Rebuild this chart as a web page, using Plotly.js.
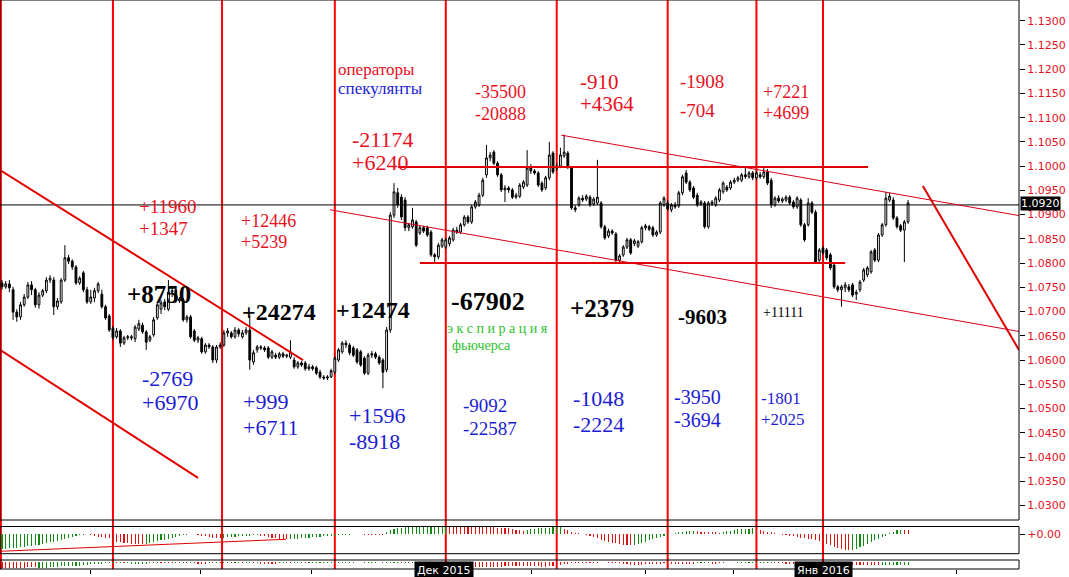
<!DOCTYPE html>
<html><head><meta charset="utf-8">
<script src="https://cdn.plot.ly/plotly-3.0.1.min.js"></script>
<style>html,body{margin:0;padding:0;background:#fff}</style>
</head><body><div id="chart" style="width:1069px;height:577px"></div>
<script>
// ---- data (EUR/USD 4h candles) ----
const open = [1.0759,1.0751,1.0757,1.0745,1.0699,1.0689,1.0714,1.0730,1.0755,1.0745,
1.0714,1.0734,1.0743,1.0765,1.0765,1.0710,1.0720,1.0765,1.0811,1.0804,
1.0792,1.0759,1.0780,1.0745,1.0720,1.0728,1.0743,1.0736,1.0710,1.0691,
1.0666,1.0648,1.0660,1.0635,1.0646,1.0648,1.0644,1.0664,1.0672,1.0658,
1.0641,1.0652,1.0687,1.0705,1.0720,1.0705,1.0740,1.0745,1.0722,1.0724,
1.0683,1.0689,1.0660,1.0641,1.0644,1.0617,1.0631,1.0627,1.0600,1.0627,
1.0631,1.0656,1.0656,1.0648,1.0662,1.0648,1.0656,1.0662,1.0596,1.0621,
1.0627,1.0625,1.0625,1.0606,1.0610,1.0606,1.0613,1.0608,1.0606,1.0600,
1.0586,1.0594,1.0594,1.0582,1.0586,1.0584,1.0575,1.0565,1.0563,1.0565,
1.0575,1.0600,1.0617,1.0635,1.0631,1.0625,1.0621,1.0617,1.0604,1.0573,
1.0610,1.0613,1.0606,1.0600,1.0580,1.0662,1.0899,1.0945,1.0936,1.0930,
1.0873,1.0875,1.0885,1.0862,1.0873,1.0873,1.0864,1.0817,1.0813,1.0835,
1.0833,1.0840,1.0848,1.0868,1.0864,1.0879,1.0895,1.0885,1.0916,1.0920,
1.0940,1.0982,1.1017,1.1029,1.1006,1.0982,1.0951,1.0955,1.0951,1.0936,
1.0938,1.0957,1.0961,1.0996,1.0990,1.0986,1.0965,1.0955,1.0976,1.1027,
1.0996,1.1000,1.1021,1.1027,1.0996,1.0914,1.0920,1.0934,1.0932,1.0936,
1.0922,1.0924,1.0924,1.0875,1.0856,1.0866,1.0860,1.0806,1.0817,1.0833,
1.0848,1.0840,1.0835,1.0844,1.0873,1.0875,1.0873,1.0858,1.0864,1.0920,
1.0924,1.0910,1.0920,1.0918,1.0945,1.0986,1.0967,1.0955,1.0940,1.0922,
1.0924,1.0875,1.0922,1.0920,1.0930,1.0947,1.0957,1.0955,1.0967,1.0971,
1.0971,1.0982,1.0978,1.0986,1.0976,1.0982,1.0978,1.0988,1.0971,1.0920,
1.0934,1.0928,1.0930,1.0936,1.0926,1.0916,1.0930,1.0879,1.0879,1.0924,
1.0905,1.0806,1.0831,1.0827,1.0817,1.0796,1.0751,1.0745,1.0749,1.0751,
1.0755,1.0736,1.0745,1.0765,1.0776,1.0782,1.0827,1.0806,1.0858,1.0879,
1.0930,1.0930,1.0893,1.0877,1.0868,1.0885];
const high = [1.0765,1.0763,1.0765,1.0751,1.0705,1.0720,1.0736,1.0761,1.0763,1.0749,
1.0740,1.0747,1.0771,1.0775,1.0771,1.0728,1.0769,1.0837,1.0817,1.0808,
1.0796,1.0773,1.0784,1.0751,1.0745,1.0749,1.0761,1.0745,1.0714,1.0695,
1.0670,1.0666,1.0664,1.0650,1.0652,1.0652,1.0672,1.0683,1.0677,1.0662,
1.0652,1.0689,1.0720,1.0724,1.0726,1.0765,1.0749,1.0751,1.0730,1.0728,
1.0693,1.0693,1.0664,1.0650,1.0648,1.0635,1.0635,1.0631,1.0631,1.0637,
1.0662,1.0666,1.0660,1.0668,1.0666,1.0662,1.0668,1.0693,1.0621,1.0631,
1.0631,1.0629,1.0629,1.0621,1.0615,1.0617,1.0617,1.0613,1.0641,1.0606,
1.0598,1.0598,1.0598,1.0592,1.0590,1.0588,1.0580,1.0569,1.0569,1.0582,
1.0608,1.0625,1.0639,1.0641,1.0635,1.0629,1.0625,1.0621,1.0608,1.0615,
1.0619,1.0617,1.0610,1.0604,1.0668,1.0905,1.0965,1.0955,1.0942,1.0936,
1.0883,1.0914,1.0889,1.0877,1.0877,1.0877,1.0868,1.0821,1.0842,1.0852,
1.0852,1.0856,1.0873,1.0875,1.0883,1.0899,1.0899,1.0920,1.0930,1.0945,
1.0976,1.1044,1.1029,1.1033,1.1010,1.0986,1.0961,1.0959,1.0955,1.0945,
1.0965,1.0971,1.1033,1.1004,1.0994,1.0990,1.0969,1.0980,1.1050,1.1031,
1.1006,1.1038,1.1065,1.1031,1.1000,1.0920,1.0938,1.0940,1.0942,1.0940,
1.0936,1.1013,1.0928,1.0879,1.0871,1.0870,1.0864,1.0819,1.0837,1.0852,
1.0852,1.0850,1.0848,1.0877,1.0881,1.0879,1.0877,1.0868,1.0928,1.0938,
1.0930,1.0924,1.0926,1.0949,1.0982,1.0992,1.0971,1.0959,1.0945,1.0930,
1.0928,1.0928,1.0930,1.0938,1.0955,1.0969,1.0961,1.0971,1.0976,1.0980,
1.0986,1.0996,1.0990,1.0990,1.0990,1.0988,1.0996,1.0994,1.0976,1.0938,
1.0940,1.0936,1.0940,1.0940,1.0930,1.0938,1.0934,1.0883,1.0934,1.0928,
1.0910,1.0831,1.0835,1.0831,1.0821,1.0800,1.0755,1.0755,1.0761,1.0757,
1.0759,1.0745,1.0765,1.0790,1.0794,1.0827,1.0831,1.0862,1.0883,1.0947,
1.0945,1.0936,1.0897,1.0881,1.0889,1.0930];
const low = [1.0745,1.0747,1.0740,1.0683,1.0679,1.0683,1.0710,1.0726,1.0734,1.0708,
1.0706,1.0730,1.0738,1.0759,1.0693,1.0704,1.0716,1.0761,1.0798,1.0786,
1.0755,1.0755,1.0740,1.0716,1.0716,1.0720,1.0738,1.0706,1.0683,1.0658,
1.0641,1.0644,1.0627,1.0631,1.0641,1.0641,1.0637,1.0660,1.0654,1.0621,
1.0637,1.0648,1.0683,1.0695,1.0703,1.0701,1.0730,1.0718,1.0718,1.0679,
1.0677,1.0644,1.0637,1.0635,1.0613,1.0613,1.0623,1.0594,1.0594,1.0623,
1.0627,1.0648,1.0644,1.0644,1.0648,1.0644,1.0652,1.0580,1.0590,1.0615,
1.0621,1.0617,1.0602,1.0602,1.0602,1.0602,1.0604,1.0604,1.0602,1.0582,
1.0582,1.0586,1.0578,1.0578,1.0578,1.0569,1.0561,1.0559,1.0559,1.0563,
1.0571,1.0596,1.0613,1.0625,1.0610,1.0606,1.0592,1.0586,1.0569,1.0569,
1.0604,1.0602,1.0590,1.0542,1.0575,1.0656,1.0893,1.0914,1.0889,1.0866,
1.0866,1.0871,1.0833,1.0858,1.0862,1.0854,1.0813,1.0802,1.0808,1.0831,
1.0829,1.0835,1.0844,1.0860,1.0860,1.0875,1.0881,1.0881,1.0912,1.0916,
1.0936,1.0976,1.1010,1.1002,1.0978,1.0947,1.0926,1.0945,1.0932,1.0932,
1.0934,1.0953,1.0957,1.0984,1.0982,1.0957,1.0947,1.0951,1.0971,1.0984,
1.0990,1.0996,1.1017,1.0994,1.0910,1.0905,1.0916,1.0926,1.0928,1.0916,
1.0918,1.0920,1.0871,1.0848,1.0852,1.0858,1.0802,1.0802,1.0813,1.0829,
1.0817,1.0835,1.0831,1.0840,1.0868,1.0866,1.0854,1.0854,1.0860,1.0916,
1.0908,1.0905,1.0912,1.0914,1.0940,1.0963,1.0947,1.0932,1.0916,1.0918,
1.0871,1.0871,1.0918,1.0916,1.0926,1.0943,1.0947,1.0951,1.0963,1.0967,
1.0967,1.0974,1.0974,1.0971,1.0971,1.0974,1.0974,1.0961,1.0914,1.0916,
1.0924,1.0924,1.0926,1.0920,1.0912,1.0912,1.0875,1.0844,1.0875,1.0901,
1.0798,1.0802,1.0817,1.0806,1.0786,1.0747,1.0740,1.0710,1.0740,1.0740,
1.0730,1.0724,1.0740,1.0761,1.0771,1.0778,1.0802,1.0802,1.0854,1.0875,
1.0926,1.0889,1.0871,1.0864,1.0802,1.0881];
const close = [1.0751,1.0757,1.0749,1.0699,1.0689,1.0714,1.0730,1.0755,1.0745,1.0714,
1.0734,1.0743,1.0765,1.0769,1.0710,1.0722,1.0765,1.0811,1.0804,1.0792,
1.0759,1.0769,1.0745,1.0720,1.0730,1.0743,1.0757,1.0710,1.0687,1.0662,
1.0646,1.0660,1.0635,1.0646,1.0648,1.0646,1.0668,1.0675,1.0658,1.0637,
1.0648,1.0683,1.0714,1.0718,1.0710,1.0740,1.0743,1.0722,1.0726,1.0683,
1.0689,1.0648,1.0641,1.0646,1.0617,1.0631,1.0627,1.0600,1.0627,1.0631,
1.0656,1.0660,1.0648,1.0662,1.0654,1.0656,1.0662,1.0600,1.0615,1.0627,
1.0625,1.0621,1.0606,1.0617,1.0606,1.0613,1.0608,1.0610,1.0617,1.0586,
1.0594,1.0590,1.0582,1.0586,1.0582,1.0573,1.0565,1.0563,1.0565,1.0578,
1.0604,1.0621,1.0635,1.0631,1.0615,1.0610,1.0596,1.0590,1.0573,1.0610,
1.0613,1.0606,1.0594,1.0575,1.0662,1.0899,1.0947,1.0920,1.0895,1.0873,
1.0879,1.0889,1.0837,1.0873,1.0866,1.0858,1.0817,1.0813,1.0837,1.0848,
1.0848,1.0852,1.0868,1.0864,1.0879,1.0895,1.0885,1.0916,1.0926,1.0940,
1.0971,1.1017,1.1023,1.1006,1.0982,1.0951,1.0955,1.0951,1.0936,1.0940,
1.0961,1.0967,1.0996,1.0990,1.0986,1.0961,1.0951,1.0976,1.1023,1.0988,
1.1000,1.1023,1.1029,1.0998,1.0914,1.0910,1.0934,1.0930,1.0938,1.0920,
1.0932,1.0936,1.0875,1.0852,1.0866,1.0862,1.0806,1.0815,1.0833,1.0848,
1.0821,1.0846,1.0844,1.0873,1.0877,1.0870,1.0858,1.0864,1.0924,1.0934,
1.0912,1.0920,1.0916,1.0945,1.0978,1.0967,1.0951,1.0936,1.0920,1.0926,
1.0875,1.0924,1.0926,1.0934,1.0951,1.0965,1.0951,1.0967,1.0971,1.0976,
1.0982,1.0978,1.0986,1.0976,1.0986,1.0978,1.0988,1.0965,1.0920,1.0934,
1.0928,1.0932,1.0936,1.0924,1.0916,1.0934,1.0879,1.0848,1.0924,1.0905,
1.0802,1.0827,1.0821,1.0811,1.0790,1.0751,1.0745,1.0751,1.0755,1.0745,
1.0734,1.0740,1.0761,1.0786,1.0790,1.0823,1.0806,1.0858,1.0879,1.0934,
1.0938,1.0893,1.0875,1.0868,1.0885,1.0924];
// oscillator histogram (lower panel), same bars
const hist = [-15,-14.6,-14.2,-14,-13.6,-13.2,-12.8,-12.4,-12,-11.3,-10.6,-9.8,-9,-8.3,-7.6,-6.8,-6,-5,-4,-3,-2.2,
-1,-0.6,-0.4,
-1,-1.8,-2.5,-3,-3.5,-4,
-6.5,-7.5,-8.3,-8.8,-9.2,-9.5,-9.7,-9.9,-10,
-9.5,-8.8,-8,-7.2,-6.4,-5.6,-4.7,-3.8,
-2.8,-1.8,-1,-0.5,-0.3,-0.2,
-0.8,-1.6,-2.4,-3,-3.5,-3.9,-4.2,
-3.8,-3.4,-3,-2.7,-2.4,-2.1,-1.8,-1.5,-1.2,-1,
-1.5,-2.2,-3,-3.6,-4.2,-4.6,-5,-5.2,
-5,-4.8,-4.5,-4.2,-3.9,-3.6,-3.3,-3,-2.7,-2.4,-2.1,-1.8,
-1.5,-1.2,-1,-0.8,-0.6,-0.4,-0.3,
-0.4,-0.5,-0.6,-0.7,-0.8,-0.9,-1,
2,4,5.5,
6,6.3,6.6,6.8,7,7.1,7.2,7.3,7.4,7.5,7.6,7.7,7.8,7.9,
7.8,7.7,7.6,7.5,7.4,7.3,7.2,7.1,7,6.9,6.8,6.7,6.6,6.5,6.4,6.3,6.2,
5,4.2,3.8,3.5,
4,4.6,5.2,5.8,
6,6.2,6.4,6.6,6.8,
7,5.5,4,
2.5,1.5,0.8,0.3,
-0.8,-2,-3.2,-4.4,-5.6,-6.7,-7.7,-8.6,-9.4,-10,-10.5,-10.8,-11,
-10.5,-9.6,-8.6,-7.5,-6.4,-5.3,-4.2,-3.1,-2,
-1,0.5,1.2,1.8,2.4,2.8,3,3.1,
2.8,2.5,2.2,2,1.8,1.6,1.5,
2,2.8,3.5,4.1,4.6,5,5.3,5.5,5.7,
5.2,4.5,3.5,2.5,1.6,0.8,
-0.3,-0.8,-1.3,-1.8,-2.4,-3,-3.6,-4.2,-4.8,-5.4,-6,-6.6,
-8,-9.5,-11,-12.5,-13.8,-14.8,-15.5,-16,
-15.5,-14.5,-13,-11.5,-9.8,-8,-6.2,-4.5,
-3,-1.5,
1,2.5,3.8,4.5,4.2,4];
// bottom strip indicator (sign = colour: + green, - red)
const strip = [-1,-1,-1,-1,-0.9,-0.9,-0.9,-0.8,-0.8,-0.8,
0.9,0.9,0.9,0.8,0.8,0.8,0.7,0.7,0.7,0.6,0.6,0.6,
0.5,0.5,0.4,0.4,0.3,0.3,0.2,0.2,
0.2,-0.2,0.2,-0.2,0.2,0.4,0.4,0.4,0.4,0.3,0.2,-0.2,0.2,-0.2,0.2,-0.2,-0.2,0.2,-0.2,0.2,-0.2,0.2,-0.2,-0.3,-0.3,-0.3,0.2,-0.2,0.2,-0.2,
0.2,0.2,-0.2,0.2,0.2,-0.2,0.2,0.2,-0.2,0.2,-0.3,-0.4,-0.4,-0.4,-0.4,0.2,0.2,0.2,-0.2,0.2,0.2,0.2,-0.2,0.2,0.2,0.2,0.2,0.2,0.2,0.2,
0.15,0.15,0.15,0.15,0.15,0.15,0,0,0.15,0.15,0.15,0.15,0,0.15,0.15,0.15,0.15,
0.15,-0.15,0.15,-0.15,0.15,-0.15,0.15,-0.15,0.15,-0.15,0.15,-0.15,0.15,-0.15,0.15,-0.15,0.15,
-0.6,-0.7,-0.7,-0.8,-0.8,-0.8,-0.8,-0.8,-0.8,-0.8,-0.8,-0.8,-0.7,-0.7,-0.7,-0.7,-0.7,-0.7,-0.7,-0.7,-0.7,-0.7,
-0.8,-0.8,-0.7,-0.7,-0.6,-0.5,-0.4,-0.3,-0.2,-0.2,
-0.15,-0.15,-0.15,-0.15,-0.15,-0.15,0,0,-0.15,-0.15,-0.15,-0.15,
-0.4,-0.4,-0.5,-0.5,-0.5,-0.5,-0.4,-0.4,-0.4,-0.3,-0.3,-0.2,-0.2,
-0.4,-0.4,-0.4,-0.4,-0.4,-0.3,-0.3,0.15,0.15,0.15,0.15,-0.3,-0.3,-0.2,0.15,
0,0,0,0.15,0.15,0.15,0.15,0.15,
0.15,0.15,0.15,0.15,0.15,0.15,-0.2,-0.2,-0.3,-0.3,-0.3,-0.3,-0.4,-0.4,-0.4,-0.4,-0.4,-0.4,-0.5,-0.5,-0.5,-0.5,-0.5,-0.5,-0.5,-0.5,
-0.5,-0.5,-0.5,-0.5,-0.5,-0.5,-0.5,-0.5,
0.5,0.5,0.5,0.5,0.5,0.5,0.5,0.5];
// weekly (COT report) separators, in bar numbers
const weekLines = [-0.3, 30, 59.5, 90, 120, 150, 180, 204, 222];
// date ticks on the time axis (bar numbers)
const dateTicks = [23.8, 53.8, 83.8, 143.3, 173.9, 197.9, 258];
const monthLabels = ["Дек 2015", "Янв 2016"];
const lastPrice = 1.0920;
// analyst trend lines: [bar0, price0, bar1, price1]
const thickLines = [[-0.54,1.0992,81.4,1.0600],[-0.54,1.0621,53.0,1.0357],[107.1,1.0998,234.2,1.0998],[113.0,1.0800,228.0,1.0800],[249.0,1.0959,275.0,1.0621]];
const thinLines = [[88.7,1.0910,275.0,1.0659],[151.2,1.1064,275.0,1.0898]];
const histTrend = [-0.54,-17.3,76.8,-5.3];

const idx = open.map((_, i) => i);

// ---- geometry helpers (plot area 1019 x 569 px) ----
const PW = 1019, PH = 569;
const px = x => x / PW, py = y => (PH - y) / PH;

const RED = '#e8101e', BLUE = '#1c1cd4', GREEN = '#2ec02e';
const serif = 'Liberation Serif, Times New Roman, serif';

const traces = [
  {type:'candlestick', x:idx, open:open, high:high, low:low, close:close,
   increasing:{line:{color:'#000', width:1}, fillcolor:'#ffffff'},
   decreasing:{line:{color:'#000', width:1}, fillcolor:'#000000'},
   whiskerwidth:0, hoverinfo:'skip', xaxis:'x', yaxis:'y'},
  {type:'bar', x:idx, y:hist, width:0.3, yaxis:'y2', xaxis:'x', hoverinfo:'skip',
   marker:{color: hist.map((v,i)=> (i===0 || v >= hist[i-1]) ? '#118a11' : '#e01010'), line:{width:0}}},
  {type:'bar', x:idx, y:strip.map(v=>Math.abs(v)), width:0.3, yaxis:'y3', xaxis:'x', hoverinfo:'skip',
   marker:{color: strip.map(v=> v >= 0 ? '#118a11' : '#e01010'), line:{width:0}}}
];

const shapes = [];
weekLines.forEach(b => shapes.push({type:'line', xref:'x', yref:'paper', x0:b, x1:b, y0:0, y1:1, layer:'below', line:{color:'#ff0000', width:2}}));
shapes.push({type:'line', xref:'paper', yref:'y', x0:0, x1:1, y0:lastPrice, y1:lastPrice, line:{color:'#000', width:1}});
thickLines.forEach(l => shapes.push({type:'line', xref:'x', yref:'y', x0:l[0], y0:l[1], x1:l[2], y1:l[3], line:{color:'#e00000', width:2}}));
thinLines.forEach(l => shapes.push({type:'line', xref:'x', yref:'y', x0:l[0], y0:l[1], x1:l[2], y1:l[3], line:{color:'#d8001a', width:1}}));
shapes.push({type:'line', xref:'x', yref:'y2', x0:histTrend[0], y0:histTrend[1], x1:histTrend[2], y1:histTrend[3], line:{color:'#e00000', width:1}});
// panel frames
const dMain = [py(520), 1], dHist = [py(553.7), py(526.5)], dStrip = [0, py(560)];
[dMain, dHist, dStrip].forEach(d => shapes.push({type:'rect', xref:'paper', yref:'paper', x0:0, x1:1, y0:d[0], y1:d[1], line:{color:'#000', width:1}, fillcolor:'rgba(0,0,0,0)'}));

function T(x, y, text, size, color, opts) {
  return Object.assign({xref:'paper', yref:'paper', x:px(x), y:py(y), xanchor:'left', yanchor:'middle',
    text:text, showarrow:false, borderpad:0, font:{family:serif, size:size, color:color}}, opts||{});
}
const annotations = [
  T(337,69,'операторы',17,RED), T(337,89,'спекулянты',17,BLUE),
  T(474,92,'-35500',18,RED), T(474,114,'-20888',18,RED),
  T(579,82,'-910',21,RED), T(579,104,'+4364',21,RED),
  T(679,82,'-1908',19,RED), T(679,110,'-704',19,RED),
  T(762,92,'+7221',18,RED), T(762,113,'+4699',18,RED),
  T(351,139,'-21174',22,RED), T(351,162,'+6240',22,RED),
  T(138,206,'+11960',19,RED), T(138,228,'+1347',19,RED),
  T(240,221,'+12446',18,RED), T(240,242,'+5239',18,RED),
  T(126,294,'<b>+8750</b>',25,'#000'), T(241,312,'<b>+24274</b>',24,'#000'),
  T(335,310,'<b>+12474</b>',24,'#000'), T(450,301,'<b>-67902</b>',26,'#000'),
  T(446,328,'э к с п и р а ц и я',14,GREEN), T(451,345,'фьючерса',14,GREEN),
  T(569,308,'<b>+2379</b>',25,'#000'), T(677,317,'<b>-9603</b>',21,'#000'),
  T(762,312,'+11111',14,'#000'),
  T(141,378,'-2769',22,BLUE), T(141,402,'+6970',22,BLUE),
  T(242,401,'+999',22,BLUE), T(242,427,'+6711',22,BLUE),
  T(348,415,'+1596',22,BLUE), T(348,441,'-8918',22,BLUE),
  T(462,405,'-9092',19,BLUE), T(462,428,'-22587',19,BLUE),
  T(572,399,'-1048',22,BLUE), T(572,424,'-2224',22,BLUE),
  T(673,397,'-3950',20,BLUE), T(673,420,'-3694',20,BLUE),
  T(760,398,'-1801',17,BLUE), T(760,419,'+2025',17,BLUE),
  {xref:'paper', yref:'y', x:1, y:lastPrice, xanchor:'left', yanchor:'middle', xshift:1, yshift:1,
   text:lastPrice.toFixed(4), showarrow:false, bgcolor:'#000', borderpad:0,
   font:{family:'DejaVu Sans', size:11, color:'#fff'}},
  {xref:'paper', yref:'paper', x:px(444), y:py(570), xanchor:'center', yanchor:'middle', text:monthLabels[0],
   showarrow:false, bgcolor:'#000', borderpad:2, font:{family:'DejaVu Sans', size:11, color:'#fff'}},
  {xref:'paper', yref:'paper', x:px(823), y:py(570), xanchor:'center', yanchor:'middle', text:monthLabels[1],
   showarrow:false, bgcolor:'#000', borderpad:2, font:{family:'DejaVu Sans', size:11, color:'#fff'}}
];

const layout = {
  width:1069, height:577, margin:{l:0, r:50, t:0, b:8},
  paper_bgcolor:'#ffffff', plot_bgcolor:'#ffffff', showlegend:false, bargap:0,
  xaxis:{range:[-0.54, 275.0], anchor:'y3', showgrid:false, zeroline:false, showline:false,
         ticks:'outside', ticklen:4, tickcolor:'#000', tickvals:dateTicks, showticklabels:false,
         rangeslider:{visible:false}, fixedrange:true},
  yaxis:{domain:dMain, range:[1.02701, 1.13427], side:'right', anchor:'x', tick0:1.03, dtick:0.005,
         tickformat:'.4f', ticks:'outside', ticklen:5, tickcolor:'#000', showgrid:false, zeroline:false,
         showline:false, tickfont:{family:'DejaVu Sans', size:11, color:RED}},
  yaxis2:{domain:dHist, range:[-19.7, 7.5], side:'right', anchor:'x', tickvals:[0], ticktext:['+0.00'],
         ticks:'outside', ticklen:5, tickcolor:'#000', showgrid:false, zeroline:false, showline:false,
         tickfont:{family:'DejaVu Sans', size:11, color:RED}},
  yaxis3:{domain:dStrip, range:[1.1, -0.25], side:'right', anchor:'x', showticklabels:false, ticks:'',
         showgrid:false, zeroline:false, showline:false},
  shapes:shapes, annotations:annotations
};

Plotly.newPlot('chart', traces, layout, {staticPlot:true, displayModeBar:false});
</script></body></html>
